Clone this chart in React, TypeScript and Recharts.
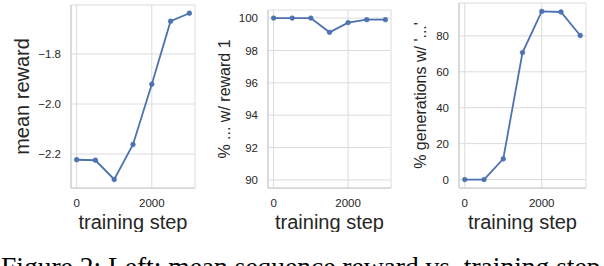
import { CartesianGrid, Label, Line, LineChart, XAxis, YAxis } from "recharts"

const steps = [0, 500, 1000, 1500, 2000, 2500, 3000]
const meanReward = [-2.223, -2.225, -2.302, -2.162, -1.921, -1.669, -1.637]
const pctReward1 = [100, 100, 100, 99.12, 99.72, 99.9, 99.9]
const pctEllipsis = [0, 0, 11.5, 70.7, 93.6, 93.3, 80.2]

const xTicks = [0, 2000]
const rewardTicks = [-2.2, -2.0, -1.8]
const reward1Ticks = [90, 92, 94, 96, 98, 100]
const ellipsisTicks = [0, 20, 40, 60, 80]

const caption = "Figure 2: Left: mean sequence reward vs. training step"

const BLUE = "#4c72b0"
const GRID = "#dcdcdc"
const FRAME = "#cfcfcf"
const TEXT = "#262626"
const SANS = "'Liberation Sans', Arial, sans-serif"

const minus = (s: string) => s.replace("-", "\u2212")

function XTitle(props: any) {
  const { x, y, width } = props.viewBox
  return (
    <text x={x + width / 2} y={y + 40.5} textAnchor="middle" fontSize={20} fill={TEXT} fontFamily={SANS}>
      training step
    </text>
  )
}

function makeYTitle(text: string, baseX: number, size: number) {
  return (props: any) => {
    const { y, height } = props.viewBox
    const cy = y + height / 2
    return (
      <text
        x={baseX}
        y={cy}
        transform={`rotate(-90, ${baseX}, ${cy})`}
        textAnchor="middle"
        fontSize={size}
        fill={TEXT}
        fontFamily={SANS}
      >
        {text}
      </text>
    )
  }
}

type PanelProps = {
  left: number
  width: number
  top: number
  right: number
  yWidth: number
  values: number[]
  domain: [number, number]
  ticks: number[]
  fmt: (v: number) => string
  title: (props: any) => any
}

function Panel({ left, width, top, right, yWidth, values, domain, ticks, fmt, title }: PanelProps) {
  const data = steps.map((s, i) => ({ step: s, value: values[i] }))
  const tick = { fontSize: 11.5, fill: TEXT, fontFamily: SANS }
  return (
    <div style={{ position: "absolute", left, top: 0 }}>
      <LineChart width={width} height={232} data={data} margin={{ top, right, left: 0, bottom: 0 }}>
        <CartesianGrid stroke={GRID} strokeWidth={1} />
        <XAxis
          dataKey="step"
          type="number"
          domain={[-150, 3150]}
          ticks={xTicks}
          tickLine={false}
          tickSize={6}
          tickMargin={5}
          axisLine={{ stroke: FRAME, strokeWidth: 1.25 }}
          tick={tick}
          height={44}
          allowDataOverflow
        >
          <Label content={XTitle} />
        </XAxis>
        <XAxis xAxisId="top" orientation="top" dataKey="step" type="number" domain={[-150, 3150]} tick={false} tickLine={false} height={0} axisLine={{ stroke: FRAME, strokeWidth: 1.25 }} />
        <YAxis
          type="number"
          domain={domain}
          ticks={ticks}
          tickFormatter={fmt}
          tickLine={false}
          tickSize={6}
          tickMargin={4}
          axisLine={{ stroke: FRAME, strokeWidth: 1.25 }}
          tick={tick}
          width={yWidth}
          allowDataOverflow
        >
          <Label content={title} />
        </YAxis>
        <YAxis yAxisId="right" orientation="right" type="number" domain={domain} tick={false} tickLine={false} width={0} axisLine={{ stroke: FRAME, strokeWidth: 1.25 }} />
        <Line
          type="linear"
          dataKey="value"
          stroke={BLUE}
          strokeWidth={1.8}
          dot={{ r: 2.4, fill: BLUE, stroke: BLUE, strokeWidth: 0.5 }}
          isAnimationActive={false}
        />
      </LineChart>
    </div>
  )
}

export default function App() {
  return (
    <div style={{ position: "absolute", left: 0, top: 0, width: 604, height: 266, overflow: "hidden", background: "#fff" }}>
      <Panel
        left={0}
        width={200}
        top={5}
        right={5}
        yWidth={71}
        values={meanReward}
        domain={[-2.336, -1.604]}
        ticks={rewardTicks}
        fmt={(v) => minus(v.toFixed(1))}
        title={makeYTitle("mean reward", 29.3, 20)}
      />
      <Panel
        left={200}
        width={200}
        top={10}
        right={9}
        yWidth={68}
        values={pctReward1}
        domain={[89.5, 100.5]}
        ticks={reward1Ticks}
        fmt={(v) => String(v)}
        title={makeYTitle("% ... w/ reward 1", 30, 16)}
      />
      <Panel
        left={400}
        width={204}
        top={3}
        right={18}
        yWidth={59}
        values={pctEllipsis}
        domain={[-4.7, 98.3]}
        ticks={ellipsisTicks}
        fmt={(v) => String(v)}
        title={makeYTitle("% generations w/ '...'", 25.6, 16)}
      />
      <svg width={604} height={266} style={{ position: "absolute", left: 0, top: 0, pointerEvents: "none" }}>
        <text x={1} y={275.5} fontSize={27.5} fill="#000" fontFamily="'Liberation Serif', 'Times New Roman', serif">
          {caption}
        </text>
      </svg>
    </div>
  )
}
